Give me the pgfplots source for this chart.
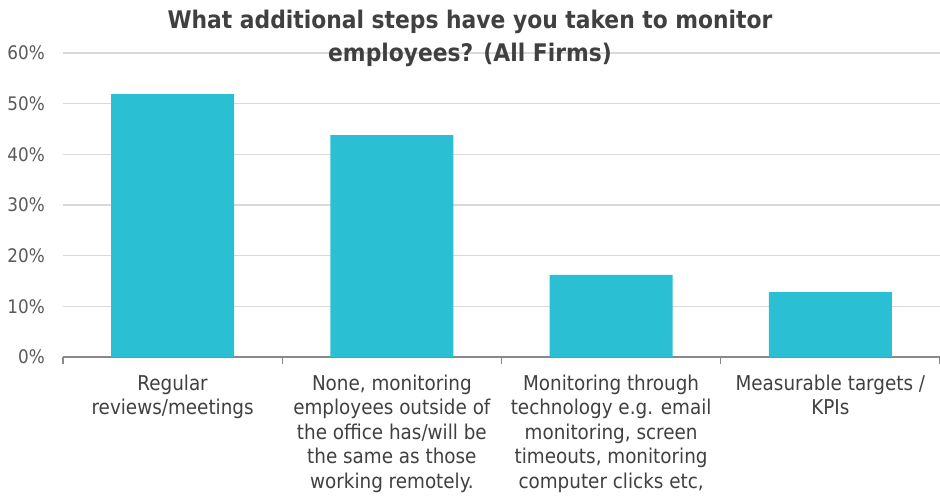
\documentclass[border=0pt]{standalone}
\usepackage{pgfplots}
\pgfplotsset{compat=1.18}
\usepackage{fontspec}
\setmainfont{DejaVu Sans Condensed}
\definecolor{barc}{RGB}{43,191,211}
\definecolor{gridc}{RGB}{217,217,217}
\definecolor{axc}{RGB}{137,137,137}
\definecolor{labc}{RGB}{89,89,89}
\definecolor{titc}{RGB}{64,64,64}
\begin{document}
\begin{tikzpicture}
\path[use as bounding box] (-47.25pt,-105pt) rectangle (657.75pt,267.75pt);
\begin{axis}[
  scale only axis,
  width=657.75pt, height=228pt,
  xmin=-0.5, xmax=3.5,
  ymin=0, ymax=60,
  ytick={0,10,...,60},
  yticklabel={\pgfmathprintnumber{\tick}\%},
  /pgf/number format/assume math mode=true,
  axis lines*=left,
  y axis line style={draw=none},
  x axis line style={draw=axc, line width=0.9pt},
  ymajorgrids,
  grid style={draw=gridc, line width=0.9pt},
  major y tick style={draw=none},
  xtick={0,1,2,3},
  major x tick style={draw=none},
  minor xtick={-0.5,0.5,1.5,2.5,3.5},
  minor x tick style={draw=axc, line width=0.9pt},
  xtick align=outside,
  minor tick length=5pt,
  major tick length=0pt,
  xticklabels={{Regular\\reviews/meetings},
    {None, monitoring\\employees outside of\\the office has/will be\\the same as those\\working remotely.},
    {Monitoring through\\technology e.g. email\\monitoring, screen\\timeouts, monitoring\\computer clicks etc,},
    {Measurable targets /\\KPIs}},
  x tick label style={font=\fontsize{15.3}{18.4}\selectfont, text=titc, align=center, anchor=north, inner sep=0pt, yshift=-13pt},
  y tick label style={font=\fontsize{14}{16}\selectfont, text=labc, anchor=east, inner sep=0pt, xshift=-13.5pt},
  clip=false,
]
\addplot[ybar, bar width=92.25pt, fill=barc, draw=none] coordinates {
  (0,51.9) (1,43.8) (2,16.2) (3,12.8)
};
\end{axis}
\node[anchor=base, font=\fontsize{18.2}{20}\selectfont\bfseries, text=titc] at (305.25pt,246.75pt) {What additional steps have you taken to monitor};
\node[anchor=base, font=\fontsize{18.2}{20}\selectfont\bfseries, text=titc] at (305.25pt,222pt) {employees? (All Firms)};
\end{tikzpicture}
\end{document}
